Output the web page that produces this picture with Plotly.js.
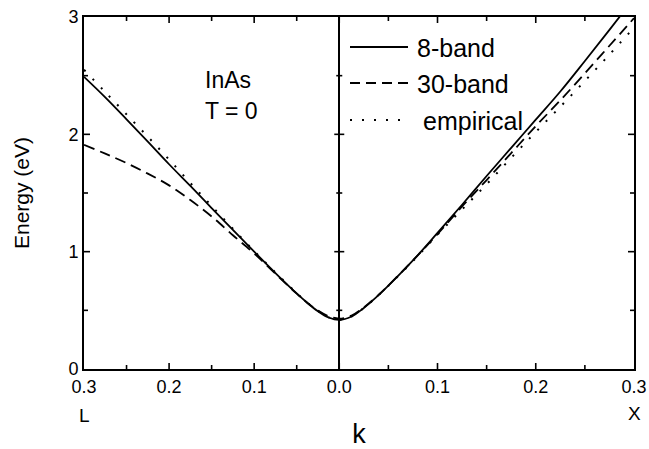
<!DOCTYPE html>
<html>
<head>
<meta charset="utf-8">
<script src="https://cdn.plot.ly/plotly-3.0.1.min.js"></script>
<style>html,body{margin:0;padding:0;background:#fff;}#chart{width:649px;height:449px;}</style>
</head>
<body>
<div id="chart"></div>
<script>
// k as fraction of the Gamma-L (left) and Gamma-X (right) distances
const kL = [0, 0.0125, 0.025, 0.0375, 0.05, 0.075, 0.1, 0.125, 0.15, 0.175, 0.2, 0.225, 0.25, 0.275, 0.3];
const kX = [0, 0.0125, 0.025, 0.0375, 0.05, 0.075, 0.1, 0.125, 0.15, 0.175, 0.2, 0.225, 0.25, 0.275, 0.3];

// Energy (eV), Gamma -> L
const band8_L  = [0.418, 0.439, 0.492, 0.563, 0.644, 0.818, 1.0, 1.185, 1.372, 1.56, 1.745, 1.938, 2.128, 2.315, 2.49];
const band30_L = [0.43, 0.45, 0.498, 0.565, 0.642, 0.812, 0.985, 1.14, 1.30, 1.44, 1.565, 1.665, 1.755, 1.835, 1.91];
const empir_L  = [0.418, 0.44, 0.495, 0.565, 0.647, 0.822, 1.005, 1.195, 1.39, 1.585, 1.785, 1.98, 2.17, 2.36, 2.55];

// Energy (eV), Gamma -> X
const band8_X  = [0.418, 0.447, 0.52, 0.61, 0.71, 0.925, 1.16, 1.40, 1.645, 1.885, 2.125, 2.365, 2.625, 2.89, 3.16];
const band30_X = [0.43, 0.455, 0.525, 0.612, 0.712, 0.925, 1.15, 1.385, 1.61, 1.84, 2.07, 2.29, 2.52, 2.755, 2.99];
const empir_X  = [0.418, 0.447, 0.52, 0.61, 0.71, 0.92, 1.145, 1.36, 1.575, 1.80, 2.02, 2.235, 2.455, 2.68, 2.91];

const seriesNames = ["8-band", "30-band", "empirical"];
const kTickValues = [0.3, 0.2, 0.1, 0.0, 0.1, 0.2, 0.3];   // first three are on the L side
const kTickLabels = ["0.3", "0.2", "0.1", "0.0", "0.1", "0.2", "0.3"];
const kMinorL = [0.25, 0.15, 0.05];
const kMinorX = [0.05, 0.15, 0.25];
const energyTicks = [0, 1, 2, 3];
const energyMinor = [0.5, 1.5, 2.5];

// |Gamma-L| = sqrt(3)/2 |Gamma-X|  (units of 2pi/a)
const GL = Math.sqrt(3) / 2;
const xL = kL.map(k => -k * GL);

function joinSides(eL, eX) {
  const x = [], y = [];
  for (let i = kL.length - 1; i >= 0; i--) { x.push(xL[i]); y.push(eL[i]); }
  for (let i = 1; i < kX.length; i++) { x.push(kX[i]); y.push(eX[i]); }
  return {x, y};
}

const font = "Liberation Sans, Arial, Helvetica, sans-serif";
const lineW = 1.8;
const d8 = joinSides(band8_L, band8_X);
const d30 = joinSides(band30_L, band30_X);
const dE = joinSides(empir_L, empir_X);

const xTickPos = kTickValues.map((v, i) => i < 3 ? -v * GL : v);
const xMinorPos = kMinorL.map(v => -v * GL).concat(kMinorX);
const xmin = -0.3 * GL, xmax = 0.3, ymin = 0, ymax = 3;

// plot area size in pixels (from margins) -> one pixel in data units
const W = 649 - 84 - 15, H = 449 - 17 - 80;
const pxX = (xmax - xmin) / W, pxY = (ymax - ymin) / H;

// ---- inside, mirrored tick marks as one segmented line trace (null gaps) ----
const tx = [], ty = [];
function seg(x0, y0, x1, y1) { tx.push(x0, x1, null); ty.push(y0, y1, null); }
function xTick(v, len) { seg(v, ymin, v, ymin + len * pxY); seg(v, ymax, v, ymax - len * pxY); }
function yTick(v, len) {
  seg(xmin, v, xmin + len * pxX, v);
  seg(xmax, v, xmax - len * pxX, v);
  seg(-(len - 1) * pxX, v, (len - 1) * pxX, v);   // crossing the k = 0 line
}
xTickPos.forEach(v => { if (v > xmin + 1e-9 && v < xmax - 1e-9) xTick(v, 6); });
xMinorPos.forEach(v => xTick(v, 4));
energyTicks.forEach(v => { if (v > ymin && v < ymax) yTick(v, 6); });
energyMinor.forEach(v => yTick(v, 4));

const traces = [
  {x: d8.x, y: d8.y, name: seriesNames[0], mode: "lines", line: {color: "#000", width: lineW, shape: "spline", dash: "solid"}},
  {x: d30.x, y: d30.y, name: seriesNames[1], mode: "lines", line: {color: "#000", width: lineW, shape: "spline", dash: "11px,6px"}},
  {x: dE.x, y: dE.y, name: seriesNames[2], mode: "lines", line: {color: "#000", width: 2, shape: "spline", dash: "2px,10px"}},
  {x: tx, y: ty, mode: "lines", connectgaps: false, hoverinfo: "skip", showlegend: false, cliponaxis: false,
   line: {color: "#000", width: 1.6}}
];

// legend geometry in paper coords
const px = p => (p - 84) / W;
const py = p => (369 - p) / H;
const legRows = [47, 83, 120];
const legDash = ["solid", "10px,6px", "2px,10px"];
const legTextX = [415, 415, 421];

const shapes = legRows.map((r, i) => ({
  type: "line", xref: "paper", yref: "paper",
  x0: px(350), x1: px(408), y0: py(r), y1: py(r),
  line: {color: "#000", width: i === 2 ? 2 : lineW, dash: legDash[i]}
}));

const annotations = [
  ...legRows.map((r, i) => ({
    xref: "paper", yref: "paper", x: px(legTextX[i]), y: py(r + 1), xanchor: "left", yanchor: "middle",
    text: seriesNames[i], showarrow: false, font: {family: font, size: 25, color: "#000"}
  })),
  {xref: "paper", yref: "paper", x: px(203), y: py(80), xanchor: "left", yanchor: "middle", text: "InAs", showarrow: false, font: {family: font, size: 23, color: "#000"}},
  {xref: "paper", yref: "paper", x: px(203), y: py(111), xanchor: "left", yanchor: "middle", text: "T = 0", showarrow: false, font: {family: font, size: 23, color: "#000"}},
  {xref: "paper", yref: "paper", x: px(84), y: py(415), xanchor: "center", yanchor: "middle", text: "L", showarrow: false, font: {family: font, size: 19, color: "#000"}},
  {xref: "paper", yref: "paper", x: px(634), y: py(413), xanchor: "center", yanchor: "middle", text: "X", showarrow: false, font: {family: font, size: 19, color: "#000"}}
];

const axisCommon = {
  showline: true, linecolor: "#000", linewidth: 2, showgrid: false, mirror: true,
  ticks: "",
  tickfont: {family: font, size: 18, color: "#000"}
};

const layout = {
  width: 649, height: 449,
  margin: {l: 84, r: 15, t: 17, b: 80},
  paper_bgcolor: "#fff", plot_bgcolor: "#fff",
  showlegend: false,
  font: {family: font, color: "#000"},
  xaxis: Object.assign({}, axisCommon, {
    range: [xmin, xmax], tickmode: "array", tickvals: xTickPos, ticktext: kTickLabels,
    zeroline: true, zerolinecolor: "#000", zerolinewidth: 2,
    title: {text: "k", font: {family: font, size: 27, color: "#000"}, standoff: 30}
  }),
  yaxis: Object.assign({}, axisCommon, {
    range: [ymin, ymax], tickmode: "array", tickvals: energyTicks, ticktext: energyTicks.map(String),
    zeroline: false,
    title: {text: "Energy (eV)", font: {family: font, size: 21, color: "#000"}, standoff: 33}
  }),
  shapes: shapes,
  annotations: annotations
};

Plotly.newPlot("chart", traces, layout, {staticPlot: true, displayModeBar: false});
</script>
</body>
</html>
